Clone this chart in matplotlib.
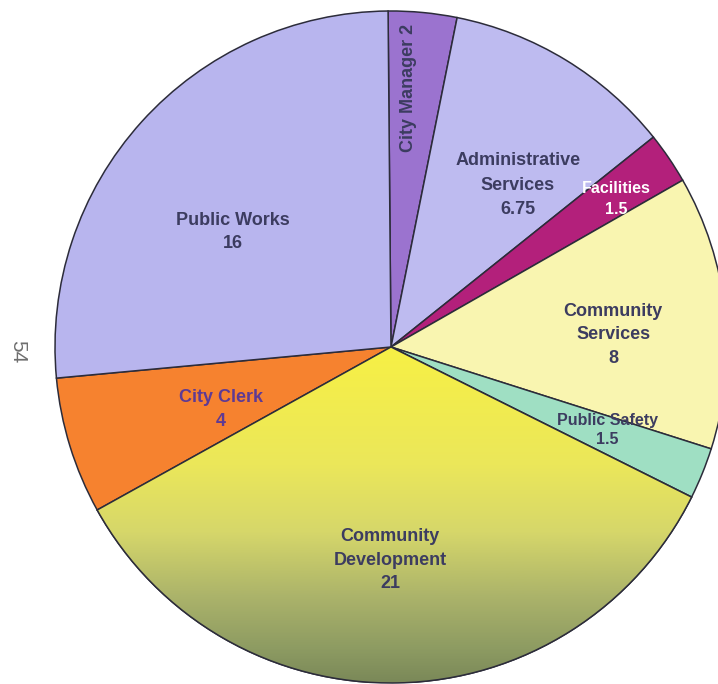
"""
Staffing by department - pie chart recreation.
"""

import numpy as np
import matplotlib
matplotlib.use("Agg")
import matplotlib.pyplot as plt
from matplotlib.patches import Wedge
from matplotlib.colors import LinearSegmentedColormap

plt.rcParams["font.family"] = ["Liberation Sans", "DejaVu Sans"]

# Data (clockwise from top)
departments = ["City Manager", "Administrative\nServices", "Facilities",
               "Community\nServices", "Public Safety", "Community\nDevelopment",
               "City Clerk", "Public Works"]
positions = [2, 6.75, 1.5, 8, 1.5, 21, 4, 16]
colors = ["#9b73cf", "#bebbf0", "#b3207b", "#f9f5b0", "#9fdfc3",
          "#f3ec48", "#f6822f", "#b8b5ee"]

# label placement (x, y in pie units), style
label_pos = [(0.051, 0.771), (0.378, 0.482), (0.670, 0.440), (0.661, 0.036),
             (0.643, -0.247), (-0.003, -0.634), (-0.506, -0.185), (-0.470, 0.342)]
label_color = ["#3c3c60", "#3c3c60", "white", "#3c3c60", "#3c3c60",
               "#3c3c60", "#5e3a94", "#3c3c60"]
label_size = [13, 13, 11.5, 13, 11.5, 13, 13, 13]
label_spacing = [1.0, 1.55, 1.45, 1.5, 1.4, 1.5, 1.55, 1.45]

fig = plt.figure(figsize=(7.18, 6.84), dpi=100)
# pie centre at (391, 347) px, radius 336 px
ax = fig.add_axes([(391 - 336) / 718, (684 - 347 - 336) / 684, 672 / 718, 672 / 684])

wedges, _ = ax.pie(positions, colors=colors, startangle=90.5, counterclock=False,
                   radius=1.0,
                   wedgeprops=dict(edgecolor="#2c2c3a", linewidth=1.1))
ax.set_xlim(-1, 1)
ax.set_ylim(-1, 1)
ax.axis("off")

# gradient fill on Community Development
grad_cmap = LinearSegmentedColormap.from_list(
    "cd", [(0.0, "#f7f045"), (0.35, "#ebe75a"), (0.55, "#d6d76a"),
           (0.75, "#aab26a"), (0.9, "#8d9b62"), (1.0, "#7a8858")])
g = np.linspace(0, 1, 256).reshape(-1, 1)
cd = wedges[5]
im = ax.imshow(g, cmap=grad_cmap, extent=[-1, 1, -1, 0], aspect="auto",
               origin="upper", zorder=cd.get_zorder() + 0.1)
im.set_clip_path(cd)
# redraw edge over gradient
ax.add_patch(Wedge(cd.center, cd.r, cd.theta1, cd.theta2,
                   facecolor="none", edgecolor="#2c2c3a",
                   linewidth=1.1, zorder=im.get_zorder() + 0.1))

for i, name in enumerate(departments):
    vtxt = f"{positions[i]:g}"
    x, y = label_pos[i]
    if name == "City Manager":
        ax.text(x, y, f"{name} {vtxt}", rotation=90, ha="center", va="center",
                fontsize=label_size[i], fontweight="bold", color=label_color[i], zorder=10)
    else:
        ax.text(x, y, f"{name}\n{vtxt}", ha="center", va="center", multialignment="center",
                fontsize=label_size[i], fontweight="bold", color=label_color[i],
                linespacing=label_spacing[i], zorder=10)

fig.text(18 / 718, 1 - 352 / 684, "54", rotation=-90, ha="center", va="center",
         fontsize=15, color="#6e6e6e")

fig.savefig("out.png", dpi=100)
